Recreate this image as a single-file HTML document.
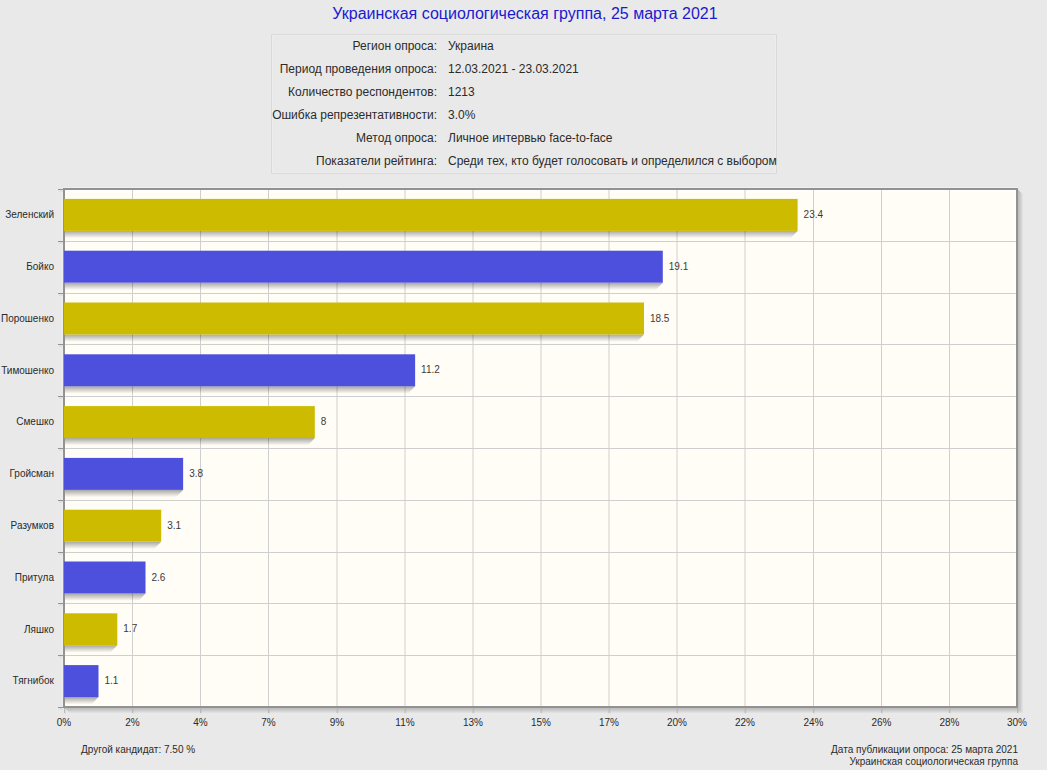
<!DOCTYPE html>
<html><head><meta charset="utf-8"><title>chart</title>
<style>
html,body{margin:0;padding:0;}
body{width:1047px;height:770px;overflow:hidden;background:#e9e9e9;position:relative;font-family:"Liberation Sans",sans-serif;}
svg text{font-family:"Liberation Sans",sans-serif;}
</style></head><body>
<svg width="1047" height="770" viewBox="0 0 1047 770" style="position:absolute;left:0;top:0"><defs><linearGradient id="sh" x1="0" y1="0" x2="0" y2="1"><stop offset="0" stop-color="#000" stop-opacity="0.34"/><stop offset="1" stop-color="#000" stop-opacity="0"/></linearGradient><clipPath id="pc"><rect x="65" y="190" width="951" height="516"/></clipPath></defs><text x="525" y="18.6" text-anchor="middle" font-size="16" fill="#1a1ad0">Украинская социологическая группа, 25 марта 2021</text><rect x="271.5" y="34.5" width="505" height="139" fill="none" stroke="#dadada" stroke-width="1"/><rect x="272.5" y="35.5" width="503" height="137" fill="none" stroke="#ededed" stroke-width="1"/><text x="437" y="50" text-anchor="end" font-size="12" fill="#2b2b2b">Регион опроса:</text><text x="448" y="50" font-size="12" fill="#2b2b2b">Украина</text><text x="437" y="73" text-anchor="end" font-size="12" fill="#2b2b2b">Период проведения опроса:</text><text x="448" y="73" font-size="12" fill="#2b2b2b">12.03.2021 - 23.03.2021</text><text x="437" y="96" text-anchor="end" font-size="12" fill="#2b2b2b">Количество респондентов:</text><text x="448" y="96" font-size="12" fill="#2b2b2b">1213</text><text x="437" y="119" text-anchor="end" font-size="12" fill="#2b2b2b">Ошибка репрезентативности:</text><text x="448" y="119" font-size="12" fill="#2b2b2b">3.0%</text><text x="437" y="142" text-anchor="end" font-size="12" fill="#2b2b2b">Метод опроса:</text><text x="448" y="142" font-size="12" fill="#2b2b2b">Личное интервью face-to-face</text><text x="437" y="165" text-anchor="end" font-size="12" fill="#2b2b2b">Показатели рейтинга:</text><text x="448" y="165" font-size="12" fill="#2b2b2b">Среди тех, кто будет голосовать и определился с выбором</text><rect x="62" y="187" width="956" height="1" fill="#efefef"/><rect x="62" y="187" width="1" height="522" fill="#eeeeee"/><rect x="1018" y="190" width="1" height="519" fill="#000" fill-opacity="0.19"/><rect x="65" y="708" width="953" height="1" fill="#000" fill-opacity="0.19"/><rect x="1019" y="191" width="1" height="519" fill="#000" fill-opacity="0.15"/><rect x="66" y="709" width="953" height="1" fill="#000" fill-opacity="0.15"/><rect x="1020" y="192" width="1" height="519" fill="#000" fill-opacity="0.12"/><rect x="67" y="710" width="953" height="1" fill="#000" fill-opacity="0.12"/><rect x="1021" y="193" width="1" height="519" fill="#000" fill-opacity="0.07"/><rect x="68" y="711" width="953" height="1" fill="#000" fill-opacity="0.07"/><rect x="1022" y="194" width="1" height="519" fill="#000" fill-opacity="0.035"/><rect x="69" y="712" width="953" height="1" fill="#000" fill-opacity="0.035"/><rect x="65" y="190" width="951" height="516" fill="#ffffff"/><rect x="66" y="191" width="949" height="514" fill="#fffdf6"/><line x1="132.5" y1="189" x2="132.5" y2="707" stroke="#cfcfcf" stroke-width="1"/><line x1="200.5" y1="189" x2="200.5" y2="707" stroke="#cfcfcf" stroke-width="1"/><line x1="268.5" y1="189" x2="268.5" y2="707" stroke="#cfcfcf" stroke-width="1"/><line x1="337" y1="189" x2="337" y2="707" stroke="#cfcfcf" stroke-width="1"/><line x1="405" y1="189" x2="405" y2="707" stroke="#cfcfcf" stroke-width="1"/><line x1="473" y1="189" x2="473" y2="707" stroke="#cfcfcf" stroke-width="1"/><line x1="541" y1="189" x2="541" y2="707" stroke="#cfcfcf" stroke-width="1"/><line x1="609" y1="189" x2="609" y2="707" stroke="#cfcfcf" stroke-width="1"/><line x1="677" y1="189" x2="677" y2="707" stroke="#cfcfcf" stroke-width="1"/><line x1="745" y1="189" x2="745" y2="707" stroke="#cfcfcf" stroke-width="1"/><line x1="813.5" y1="189" x2="813.5" y2="707" stroke="#cfcfcf" stroke-width="1"/><line x1="881.5" y1="189" x2="881.5" y2="707" stroke="#cfcfcf" stroke-width="1"/><line x1="949.5" y1="189" x2="949.5" y2="707" stroke="#cfcfcf" stroke-width="1"/><line x1="64" y1="241.5" x2="1017" y2="241.5" stroke="#cfcfcf" stroke-width="1"/><line x1="64" y1="293.5" x2="1017" y2="293.5" stroke="#cfcfcf" stroke-width="1"/><line x1="64" y1="344.5" x2="1017" y2="344.5" stroke="#cfcfcf" stroke-width="1"/><line x1="64" y1="396.5" x2="1017" y2="396.5" stroke="#cfcfcf" stroke-width="1"/><line x1="64" y1="448.5" x2="1017" y2="448.5" stroke="#cfcfcf" stroke-width="1"/><line x1="64" y1="500.5" x2="1017" y2="500.5" stroke="#cfcfcf" stroke-width="1"/><line x1="64" y1="552.5" x2="1017" y2="552.5" stroke="#cfcfcf" stroke-width="1"/><line x1="64" y1="603.5" x2="1017" y2="603.5" stroke="#cfcfcf" stroke-width="1"/><line x1="64" y1="655.5" x2="1017" y2="655.5" stroke="#cfcfcf" stroke-width="1"/><g clip-path="url(#pc)"><path d="M64 230.90 L797.59 230.90 L790.59 238.20 L64 238.20 Z" fill="url(#sh)"/><path d="M64 282.70 L662.79 282.70 L655.79 290.00 L64 290.00 Z" fill="url(#sh)"/><path d="M64 334.50 L643.98 334.50 L636.98 341.80 L64 341.80 Z" fill="url(#sh)"/><path d="M64 386.30 L415.12 386.30 L408.12 393.60 L64 393.60 Z" fill="url(#sh)"/><path d="M64 438.10 L314.80 438.10 L307.80 445.40 L64 445.40 Z" fill="url(#sh)"/><path d="M64 489.90 L183.13 489.90 L176.13 497.20 L64 497.20 Z" fill="url(#sh)"/><path d="M64 541.70 L161.19 541.70 L154.19 549.00 L64 549.00 Z" fill="url(#sh)"/><path d="M64 593.50 L145.51 593.50 L138.51 600.80 L64 600.80 Z" fill="url(#sh)"/><path d="M64 645.30 L117.30 645.30 L110.30 652.60 L64 652.60 Z" fill="url(#sh)"/><path d="M64 697.10 L98.49 697.10 L91.49 704.40 L64 704.40 Z" fill="url(#sh)"/></g><rect x="64" y="189" width="953" height="518" fill="none" stroke="#929292" stroke-width="2"/><line x1="58" y1="189.5" x2="63" y2="189.5" stroke="#929292" stroke-width="1"/><line x1="59" y1="191.0" x2="63" y2="191.0" stroke="#000" stroke-opacity="0.04" stroke-width="2"/><line x1="58" y1="241.5" x2="63" y2="241.5" stroke="#929292" stroke-width="1"/><line x1="59" y1="243.0" x2="63" y2="243.0" stroke="#000" stroke-opacity="0.04" stroke-width="2"/><line x1="58" y1="293.5" x2="63" y2="293.5" stroke="#929292" stroke-width="1"/><line x1="59" y1="295.0" x2="63" y2="295.0" stroke="#000" stroke-opacity="0.04" stroke-width="2"/><line x1="58" y1="344.5" x2="63" y2="344.5" stroke="#929292" stroke-width="1"/><line x1="59" y1="346.0" x2="63" y2="346.0" stroke="#000" stroke-opacity="0.04" stroke-width="2"/><line x1="58" y1="396.5" x2="63" y2="396.5" stroke="#929292" stroke-width="1"/><line x1="59" y1="398.0" x2="63" y2="398.0" stroke="#000" stroke-opacity="0.04" stroke-width="2"/><line x1="58" y1="448.5" x2="63" y2="448.5" stroke="#929292" stroke-width="1"/><line x1="59" y1="450.0" x2="63" y2="450.0" stroke="#000" stroke-opacity="0.04" stroke-width="2"/><line x1="58" y1="500.5" x2="63" y2="500.5" stroke="#929292" stroke-width="1"/><line x1="59" y1="502.0" x2="63" y2="502.0" stroke="#000" stroke-opacity="0.04" stroke-width="2"/><line x1="58" y1="552.5" x2="63" y2="552.5" stroke="#929292" stroke-width="1"/><line x1="59" y1="554.0" x2="63" y2="554.0" stroke="#000" stroke-opacity="0.04" stroke-width="2"/><line x1="58" y1="603.5" x2="63" y2="603.5" stroke="#929292" stroke-width="1"/><line x1="59" y1="605.0" x2="63" y2="605.0" stroke="#000" stroke-opacity="0.04" stroke-width="2"/><line x1="58" y1="655.5" x2="63" y2="655.5" stroke="#929292" stroke-width="1"/><line x1="59" y1="657.0" x2="63" y2="657.0" stroke="#000" stroke-opacity="0.04" stroke-width="2"/><line x1="58" y1="707.5" x2="63" y2="707.5" stroke="#929292" stroke-width="1"/><line x1="59" y1="709.0" x2="63" y2="709.0" stroke="#000" stroke-opacity="0.04" stroke-width="2"/><rect x="64" y="198.90" width="733.59" height="32" fill="#cdbb00"/><text x="803.59" y="217.90" font-size="10" fill="#3a3a3a">23.4</text><text x="54" y="218.20" text-anchor="end" font-size="10" fill="#2b2b2b">Зеленский</text><rect x="64" y="250.70" width="598.79" height="32" fill="#4d4fdd"/><text x="668.79" y="269.70" font-size="10" fill="#3a3a3a">19.1</text><text x="54" y="270.00" text-anchor="end" font-size="10" fill="#2b2b2b">Бойко</text><rect x="64" y="302.50" width="579.98" height="32" fill="#cdbb00"/><text x="649.98" y="321.50" font-size="10" fill="#3a3a3a">18.5</text><text x="54" y="321.80" text-anchor="end" font-size="10" fill="#2b2b2b">Порошенко</text><rect x="64" y="354.30" width="351.12" height="32" fill="#4d4fdd"/><text x="421.12" y="373.30" font-size="10" fill="#3a3a3a">11.2</text><text x="54" y="373.60" text-anchor="end" font-size="10" fill="#2b2b2b">Тимошенко</text><rect x="64" y="406.10" width="250.80" height="32" fill="#cdbb00"/><text x="320.80" y="425.10" font-size="10" fill="#3a3a3a">8</text><text x="54" y="425.40" text-anchor="end" font-size="10" fill="#2b2b2b">Смешко</text><rect x="64" y="457.90" width="119.13" height="32" fill="#4d4fdd"/><text x="189.13" y="476.90" font-size="10" fill="#3a3a3a">3.8</text><text x="54" y="477.20" text-anchor="end" font-size="10" fill="#2b2b2b">Гройсман</text><rect x="64" y="509.70" width="97.19" height="32" fill="#cdbb00"/><text x="167.19" y="528.70" font-size="10" fill="#3a3a3a">3.1</text><text x="54" y="529.00" text-anchor="end" font-size="10" fill="#2b2b2b">Разумков</text><rect x="64" y="561.50" width="81.51" height="32" fill="#4d4fdd"/><text x="151.51" y="580.50" font-size="10" fill="#3a3a3a">2.6</text><text x="54" y="580.80" text-anchor="end" font-size="10" fill="#2b2b2b">Притула</text><rect x="64" y="613.30" width="53.30" height="32" fill="#cdbb00"/><text x="123.30" y="632.30" font-size="10" fill="#3a3a3a">1.7</text><text x="54" y="632.60" text-anchor="end" font-size="10" fill="#2b2b2b">Ляшко</text><rect x="64" y="665.10" width="34.49" height="32" fill="#4d4fdd"/><text x="104.49" y="684.10" font-size="10" fill="#3a3a3a">1.1</text><text x="54" y="684.40" text-anchor="end" font-size="10" fill="#2b2b2b">Тягнибок</text><line x1="64.5" y1="708" x2="64.5" y2="713" stroke="#b8b8b8" stroke-width="1"/><line x1="65.5" y1="709" x2="65.5" y2="714" stroke="#000" stroke-opacity="0.05" stroke-width="1"/><text x="64.00" y="726" text-anchor="middle" font-size="10" fill="#2b2b2b">0%</text><line x1="132.5" y1="708" x2="132.5" y2="713" stroke="#b8b8b8" stroke-width="1"/><line x1="133.5" y1="709" x2="133.5" y2="714" stroke="#000" stroke-opacity="0.05" stroke-width="1"/><text x="132.50" y="726" text-anchor="middle" font-size="10" fill="#2b2b2b">2%</text><line x1="200.5" y1="708" x2="200.5" y2="713" stroke="#b8b8b8" stroke-width="1"/><line x1="201.5" y1="709" x2="201.5" y2="714" stroke="#000" stroke-opacity="0.05" stroke-width="1"/><text x="200.50" y="726" text-anchor="middle" font-size="10" fill="#2b2b2b">4%</text><line x1="268.5" y1="708" x2="268.5" y2="713" stroke="#b8b8b8" stroke-width="1"/><line x1="269.5" y1="709" x2="269.5" y2="714" stroke="#000" stroke-opacity="0.05" stroke-width="1"/><text x="268.50" y="726" text-anchor="middle" font-size="10" fill="#2b2b2b">7%</text><line x1="337" y1="708" x2="337" y2="713" stroke="#b8b8b8" stroke-width="1"/><line x1="338" y1="709" x2="338" y2="714" stroke="#000" stroke-opacity="0.05" stroke-width="1"/><text x="337.00" y="726" text-anchor="middle" font-size="10" fill="#2b2b2b">9%</text><line x1="405" y1="708" x2="405" y2="713" stroke="#b8b8b8" stroke-width="1"/><line x1="406" y1="709" x2="406" y2="714" stroke="#000" stroke-opacity="0.05" stroke-width="1"/><text x="405.00" y="726" text-anchor="middle" font-size="10" fill="#2b2b2b">11%</text><line x1="473" y1="708" x2="473" y2="713" stroke="#b8b8b8" stroke-width="1"/><line x1="474" y1="709" x2="474" y2="714" stroke="#000" stroke-opacity="0.05" stroke-width="1"/><text x="473.00" y="726" text-anchor="middle" font-size="10" fill="#2b2b2b">13%</text><line x1="541" y1="708" x2="541" y2="713" stroke="#b8b8b8" stroke-width="1"/><line x1="542" y1="709" x2="542" y2="714" stroke="#000" stroke-opacity="0.05" stroke-width="1"/><text x="541.00" y="726" text-anchor="middle" font-size="10" fill="#2b2b2b">15%</text><line x1="609" y1="708" x2="609" y2="713" stroke="#b8b8b8" stroke-width="1"/><line x1="610" y1="709" x2="610" y2="714" stroke="#000" stroke-opacity="0.05" stroke-width="1"/><text x="609.00" y="726" text-anchor="middle" font-size="10" fill="#2b2b2b">17%</text><line x1="677" y1="708" x2="677" y2="713" stroke="#b8b8b8" stroke-width="1"/><line x1="678" y1="709" x2="678" y2="714" stroke="#000" stroke-opacity="0.05" stroke-width="1"/><text x="677.00" y="726" text-anchor="middle" font-size="10" fill="#2b2b2b">20%</text><line x1="745" y1="708" x2="745" y2="713" stroke="#b8b8b8" stroke-width="1"/><line x1="746" y1="709" x2="746" y2="714" stroke="#000" stroke-opacity="0.05" stroke-width="1"/><text x="745.00" y="726" text-anchor="middle" font-size="10" fill="#2b2b2b">22%</text><line x1="813.5" y1="708" x2="813.5" y2="713" stroke="#b8b8b8" stroke-width="1"/><line x1="814.5" y1="709" x2="814.5" y2="714" stroke="#000" stroke-opacity="0.05" stroke-width="1"/><text x="813.50" y="726" text-anchor="middle" font-size="10" fill="#2b2b2b">24%</text><line x1="881.5" y1="708" x2="881.5" y2="713" stroke="#b8b8b8" stroke-width="1"/><line x1="882.5" y1="709" x2="882.5" y2="714" stroke="#000" stroke-opacity="0.05" stroke-width="1"/><text x="881.50" y="726" text-anchor="middle" font-size="10" fill="#2b2b2b">26%</text><line x1="949.5" y1="708" x2="949.5" y2="713" stroke="#b8b8b8" stroke-width="1"/><line x1="950.5" y1="709" x2="950.5" y2="714" stroke="#000" stroke-opacity="0.05" stroke-width="1"/><text x="949.50" y="726" text-anchor="middle" font-size="10" fill="#2b2b2b">28%</text><line x1="1017.5" y1="708" x2="1017.5" y2="713" stroke="#b8b8b8" stroke-width="1"/><line x1="1018.5" y1="709" x2="1018.5" y2="714" stroke="#000" stroke-opacity="0.05" stroke-width="1"/><text x="1017.00" y="726" text-anchor="middle" font-size="10" fill="#2b2b2b">30%</text><text x="81" y="753" font-size="10" fill="#2b2b2b">Другой кандидат: 7.50 %</text><text x="1018" y="753" text-anchor="end" font-size="10" fill="#2b2b2b">Дата публикации опроса: 25 марта 2021</text><text x="1018" y="765" text-anchor="end" font-size="10" fill="#2b2b2b">Украинская социологическая группа</text></svg>
</body></html>
